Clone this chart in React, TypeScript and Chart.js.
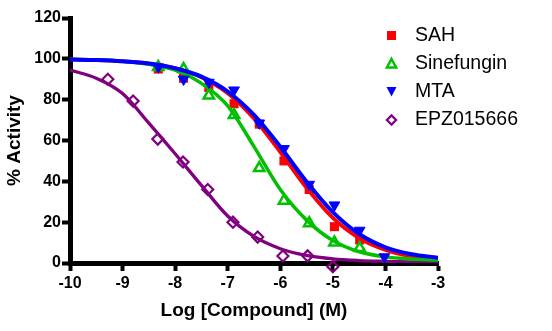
import React, { useEffect, useRef } from 'react';
import { Chart, registerables } from 'chart.js';

Chart.register(...registerables);

// ---- Data ----
const seriesNames = ['SAH', 'Sinefungin', 'MTA', 'EPZ015666'];

const xTickMin = -10;
const xTickMax = -3;
const yTickMin = 0;
const yTickMax = 120;

// fitted-curve samples (log M -> % activity)
const curveX = [-10, -9.5, -9, -8.5, -8, -7.5, -7, -6.5, -6, -5.5, -5, -4.5, -4, -3.5, -3];
const sahCurve = [99.7, 99.4, 98.8, 97.7, 95.4, 91.0, 83.2, 70.8, 54.3, 36.8, 22.1, 12.2, 6.4, 3.3, 1.9];
const sinefunginCurve = [99.8, 99.5, 98.8, 97.3, 94.5, 88, 77, 57, 36, 21, 11, 5.5, 3, 2, 1.5];
const mtaCurve = [99.7, 99.4, 98.8, 97.7, 95.4, 91.3, 84.0, 72.5, 56.9, 39.8, 24.9, 14.2, 7.7, 4.3, 2.6];
const epzCurve = [94.5, 90.5, 83, 68.5, 53.5, 38, 23, 13, 7, 3.7, 2, 1.2, 0.8, 0.5, 0.4];

// measured points
const doseX = [-8.32, -7.84, -7.36, -6.88, -6.40, -5.93, -5.45, -4.97, -4.49, -4.02];
const epzDoseX = [-9.28, -8.80, -8.33, -7.85, -7.38, -6.90, -6.43, -5.95, -5.48, -5.00];
const sahValues = [95, 90.5, 86, 78, 68, 50, 36, 17.8, 11.3, null];
const sinefunginValues = [96, 95, 82, 72.5, 46.5, 30.5, 19.5, 10, 7.3, null];
const mtaValues = [96, 90, 88.5, 84.7, 68.5, 56, 38.5, 28.4, 16, 3];
const epzValues = [90, 79.3, 60.7, 49.5, 36, 20, 12.7, 3.4, 3.5, -1.8];

const RED = '#ff0000';
const GREEN = '#00c000';
const BLUE = '#0000ff';
const PURPLE = '#800080';

const FONT = '"Liberation Sans", Arial, sans-serif';

const toXY = (xs: number[], ys: (number | null)[]) =>
  xs.map((x, i) => ({ x, y: ys[i] })).filter((p) => p.y !== null);

function drawMarker(ctx: CanvasRenderingContext2D, kind: string, x: number, y: number) {
  ctx.save();
  ctx.beginPath();
  if (kind === 'square') {
    ctx.fillStyle = RED;
    ctx.fillRect(x - 4.5, y - 4.5, 9, 9);
  } else if (kind === 'triUp') {
    ctx.strokeStyle = GREEN;
    ctx.lineWidth = 2.5;
    ctx.moveTo(x, y - 4.5);
    ctx.lineTo(x + 4.6, y + 4);
    ctx.lineTo(x - 4.6, y + 4);
    ctx.closePath();
    ctx.stroke();
  } else if (kind === 'triDown') {
    ctx.fillStyle = BLUE;
    ctx.moveTo(x - 5, y - 4.5);
    ctx.lineTo(x + 5, y - 4.5);
    ctx.lineTo(x, y + 5);
    ctx.closePath();
    ctx.fill();
  } else {
    ctx.strokeStyle = PURPLE;
    ctx.lineWidth = 2.2;
    ctx.moveTo(x, y - 4.6);
    ctx.lineTo(x + 4.6, y);
    ctx.lineTo(x, y + 4.6);
    ctx.lineTo(x - 4.6, y);
    ctx.closePath();
    ctx.stroke();
  }
  ctx.restore();
}

const legendPlugin = {
  id: 'prismLegend',
  afterDraw(chart: any) {
    const ctx: CanvasRenderingContext2D = chart.ctx;
    const kinds = ['square', 'triUp', 'triDown', 'diamond'];
    const rowY = [35.5, 63.5, 91.5, 120];
    ctx.save();
    ctx.font = `19.5px ${FONT}`;
    ctx.fillStyle = '#000';
    ctx.textBaseline = 'middle';
    ctx.textAlign = 'left';
    seriesNames.forEach((name, i) => {
      drawMarker(ctx, kinds[i], 391.5, rowY[i]);
      ctx.fillText(name, 415, rowY[i]);
    });
    ctx.restore();
  },
};

export default function App() {
  const canvasRef = useRef<HTMLCanvasElement | null>(null);

  useEffect(() => {
    if (!canvasRef.current) return;
    const curve = (data: number[], color: string, width: number, order: number) => ({
      type: 'line' as const,
      data: toXY(curveX, data),
      borderColor: color,
      borderWidth: width,
      pointRadius: 0,
      fill: false,
      cubicInterpolationMode: 'monotone' as const,
      order,
    });
    const chart = new Chart(canvasRef.current, {
      type: 'line',
      data: {
        datasets: [
          {
            label: seriesNames[2],
            data: toXY(doseX, mtaValues),
            showLine: false,
            pointStyle: 'triangle',
            rotation: 180,
            pointRadius: 6.2,
            backgroundColor: BLUE,
            borderColor: BLUE,
            borderWidth: 1,
            order: 0,
          },
          { label: 'mta-fit', ...curve(mtaCurve, BLUE, 4, 1) },
          {
            label: seriesNames[1],
            data: toXY(doseX, sinefunginValues),
            showLine: false,
            pointStyle: 'triangle',
            pointRadius: 6,
            backgroundColor: 'rgba(255,255,255,0)',
            borderColor: GREEN,
            borderWidth: 2.5,
            order: 2,
          },
          { label: 'sine-fit', ...curve(sinefunginCurve, GREEN, 3.5, 3) },
          {
            label: seriesNames[0],
            data: toXY(doseX, sahValues),
            showLine: false,
            pointStyle: 'rect',
            pointRadius: 6.4,
            backgroundColor: RED,
            borderColor: RED,
            borderWidth: 0,
            order: 4,
          },
          { label: 'sah-fit', ...curve(sahCurve, RED, 3.8, 5) },
          {
            label: seriesNames[3],
            data: toXY(epzDoseX, epzValues),
            showLine: false,
            pointStyle: 'rectRot',
            pointRadius: 5.5,
            backgroundColor: 'rgba(255,255,255,0)',
            borderColor: PURPLE,
            borderWidth: 2.2,
            clip: false,
            order: 6,
          },
          { label: 'epz-fit', ...curve(epzCurve, PURPLE, 3.3, 7) },
        ] as any,
      },
      options: {
        responsive: false,
        animation: false,
        layout: { padding: { top: 18, right: 114, left: 0, bottom: 0 } },
        plugins: {
          legend: { display: false },
          tooltip: { enabled: false },
        },
        elements: { line: { tension: 0 } },
        scales: {
          x: {
            type: 'linear',
            min: xTickMin,
            max: xTickMax,
            z: 1,
            ticks: {
              stepSize: 1,
              color: '#000',
              padding: 3,
              font: { family: FONT, size: 16, weight: 'bold' },
            },
            grid: {
              drawOnChartArea: false,
              drawTicks: true,
              tickLength: 8,
              tickWidth: 4,
              tickColor: '#000',
              color: '#000',
            },
            border: { display: true, color: '#000', width: 5 },
            title: {
              display: true,
              text: 'Log [Compound] (M)',
              color: '#000',
              font: { family: FONT, size: 19, weight: 'bold' },
              padding: { top: 0, bottom: 9 },
            },
            afterFit: (scale: any) => {
              scale.height = 68;
            },
          },
          y: {
            type: 'linear',
            min: yTickMin,
            max: yTickMax,
            z: 1,
            ticks: {
              stepSize: 20,
              color: '#000',
              padding: 1,
              font: { family: FONT, size: 16, weight: 'bold' },
            },
            grid: {
              drawOnChartArea: false,
              drawTicks: true,
              tickLength: 8,
              tickWidth: 4,
              tickColor: '#000',
              color: '#000',
            },
            border: { display: true, color: '#000', width: 5 },
            title: {
              display: true,
              text: '% Activity',
              color: '#000',
              font: { family: FONT, size: 19, weight: 'bold' },
              padding: { top: 3.6, bottom: 0 },
            },
            afterFit: (scale: any) => {
              scale.width = 70;
            },
          },
        },
      } as any,
      plugins: [legendPlugin],
    });
    return () => chart.destroy();
  }, []);

  return (
    <div style={{ position: 'absolute', left: 0, top: 0, width: 552, height: 331, background: '#fff' }}>
      <canvas ref={canvasRef} width={552} height={331} />
    </div>
  );
}
